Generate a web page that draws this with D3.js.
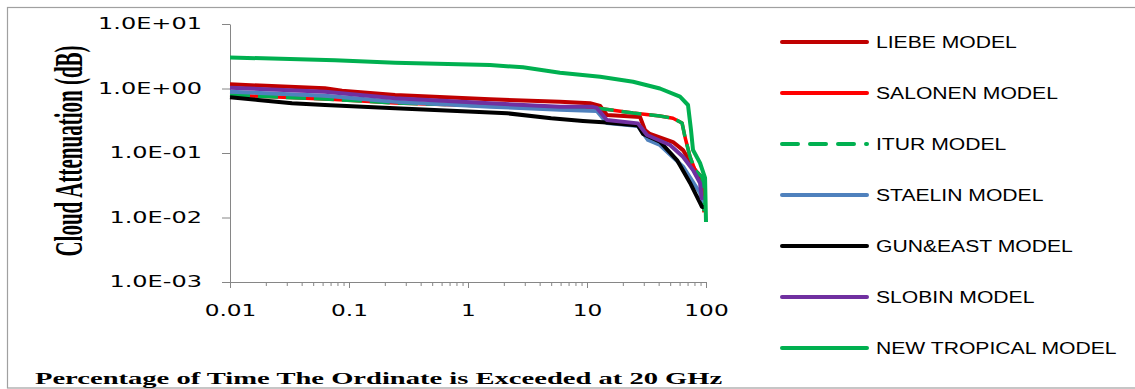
<!DOCTYPE html>
<html>
<head>
<meta charset="utf-8">
<script src="https://cdn.jsdelivr.net/npm/d3@7"></script>
<style>
  body { margin: 0; background: #fff; }
</style>
</head>
<body>
<div class="vis-cloud"></div>
<script>
// series: [percentage of time, attenuation dB]
const liebe = [[0.01,1.16],[0.0628,1.01],[0.0874,0.925],[0.244,0.793],[1.53,0.681],[5.93,0.624],[10.6,0.59],[12.9,0.535],[14.7,0.388],[27.9,0.361],[30.7,0.227],[33.8,0.197],[52.8,0.148],[64.1,0.111],[77.8,0.061],[92.5,0.038],[96.2,0.0156]];
const salonen = [[0.01,0.79],[0.0763,0.675],[0.244,0.596],[1.53,0.535],[5.93,0.517],[12.9,0.49],[24.4,0.417],[41,0.375],[52.8,0.345],[62.9,0.292],[66.6,0.177],[73.5,0.0867],[80.9,0.0545],[92.5,0.0425],[94.4,0.0267],[96.2,0.012]];
const itur = [[0.01,0.793],[0.0763,0.675],[0.244,0.596],[1.53,0.535],[5.93,0.517],[12.9,0.49],[24.4,0.417],[41,0.375],[52.8,0.345],[62.9,0.292],[66.6,0.177],[73.5,0.0867],[80.9,0.0545],[92.5,0.0425],[94.4,0.0267],[96.2,0.0125]];
const staelin = [[0.01,0.892],[0.0628,0.773],[0.244,0.624],[1.53,0.523],[5.93,0.47],[12.1,0.448],[14.7,0.292],[26.8,0.262],[32.6,0.159],[41,0.133],[64.1,0.0614],[89.1,0.024],[92.5,0.0168]];
const gunEast = [[0.01,0.731],[0.0172,0.664],[0.0332,0.59],[0.0628,0.555],[0.244,0.493],[0.809,0.448],[2.13,0.413],[5.0,0.345],[9.25,0.313],[13.6,0.299],[24.4,0.271],[26.8,0.268],[29.6,0.197],[41,0.15],[57,0.0778],[73.5,0.0343],[89.1,0.0168],[92.5,0.0146],[100,0.0146]];
const slobin = [[0.01,1.03],[0.0628,0.892],[0.244,0.705],[1.53,0.59],[5.93,0.523],[11.2,0.52],[12.1,0.5],[14.7,0.325],[26.8,0.288],[31.9,0.19],[49.8,0.133],[64.1,0.0877],[77.8,0.0545],[89.1,0.0343],[92.5,0.0187]];
const newTropical = [[0.01,3.03],[0.0763,2.74],[0.244,2.51],[1.53,2.31],[2.9,2.13],[5.93,1.76],[12.9,1.52],[24.4,1.27],[41,1.0],[60.5,0.746],[70.6,0.555],[74.8,0.227],[77.8,0.111],[89.1,0.07],[98.2,0.041],[100,0.0085]];

const seriesNames = ["LIEBE MODEL","SALONEN MODEL","ITUR MODEL","STAELIN MODEL","GUN&EAST MODEL","SLOBIN MODEL","NEW TROPICAL MODEL"];
const seriesValues = [liebe, salonen, itur, staelin, gunEast, slobin, newTropical];
const seriesColors = ["#c00000","#ff0000","#00b050","#4f81bd","#000000","#7030a0","#00b050"];
const seriesDashed = [false,false,true,false,false,false,false];

const xTickValues = [0.01,0.1,1,10,100];
const xTickLabels = ["0.01","0.1","1","10","100"];
const yTickValues = [0.001,0.01,0.1,1,10];
const yTickLabels = ["1.0E-03","1.0E-02","1.0E-01","1.0E+00","1.0E+01"];

const xTitle = "Percentage of Time The Ordinate is Exceeded at 20 GHz";
const yTitle = "Cloud Attenuation (dB)";

const width = 1135, height = 389;
const margin = { top: 24, right: 429, bottom: 107, left: 230 };

// text in the original is stretched sideways, mimic with textLength
const stretch = (sel, k) => sel.each(function () {
    const len = this.getComputedTextLength();
    d3.select(this).attr("textLength", len * k).attr("lengthAdjust", "spacingAndGlyphs");
});

const svg = d3.select(".vis-cloud")
    .append("svg")
    .attr("width", width)
    .attr("height", height);

// chart border
svg.append("rect")
    .attr("x", 7.5).attr("y", 7.5)
    .attr("width", 1140).attr("height", 380.5)
    .attr("fill", "none")
    .attr("stroke", "#a0a0a0")
    .attr("stroke-width", 1.2);

const x = d3.scaleLog()
    .domain([0.01, 100])
    .range([margin.left, width - margin.right]);

const y = d3.scaleLog()
    .domain([0.001, 10])
    .range([height - margin.bottom, margin.top]);

// minor x ticks
svg.append("g")
    .attr("transform", `translate(0,${height - margin.bottom})`)
    .call(d3.axisBottom(x)
        .tickValues(x.ticks().filter(t => !xTickValues.some(m => Math.abs(m - t) / m < 1e-6)))
        .tickSize(4)
        .tickFormat(""))
    .call(g => g.select(".domain").remove())
    .call(g => g.selectAll("line").attr("stroke", "#868686"));

// major x ticks + labels
svg.append("g")
    .attr("transform", `translate(0,${height - margin.bottom})`)
    .call(d3.axisBottom(x)
        .tickValues(xTickValues)
        .tickSize(6)
        .tickSizeOuter(0)
        .tickPadding(17)
        .tickFormat((d, i) => xTickLabels[i]))
    .call(g => g.select(".domain").attr("stroke", "#868686"))
    .call(g => g.selectAll("line").attr("stroke", "#868686"))
    .call(g => g.selectAll("text")
        .attr("font-family", "DejaVu Sans")
        .attr("font-size", 15)
        .attr("fill", "#000")
        .call(stretch, 1.55));

svg.append("g")
    .attr("transform", `translate(${margin.left},0)`)
    .call(d3.axisLeft(y)
        .tickValues(yTickValues)
        .tickSize(8)
        .tickSizeOuter(0)
        .tickPadding(20)
        .tickFormat((d, i) => yTickLabels[i]))
    .call(g => g.select(".domain").attr("stroke", "#868686"))
    .call(g => g.selectAll("line").attr("stroke", "#868686"))
    .call(g => g.selectAll("text")
        .attr("font-family", "DejaVu Sans")
        .attr("font-size", 15)
        .attr("fill", "#000")
        .call(stretch, 1.6));

const line = d3.line()
    .x(d => x(d[0]))
    .y(d => y(d[1]));

svg.append("g")
    .selectAll("path")
    .data(seriesValues)
    .join("path")
    .attr("d", line)
    .attr("fill", "none")
    .attr("stroke", (d, i) => seriesColors[i])
    .attr("stroke-width", (d, i) => i === 1 || i === 2 ? 3.5 : 4)
    .attr("stroke-dasharray", (d, i) => seriesDashed[i] ? "20,8" : null)
    .attr("stroke-linejoin", "round");

// legend
const legend = svg.append("g")
    .selectAll("g")
    .data(seriesNames)
    .join("g")
    .attr("transform", (d, i) => `translate(782,${42 + i * 51})`);

legend.append("line")
    .attr("x1", 0).attr("x2", 85)
    .attr("stroke", (d, i) => seriesColors[i])
    .attr("stroke-width", 4)
    .attr("stroke-linecap", "round")
    .attr("stroke-dasharray", (d, i) => seriesDashed[i] ? "16,12" : null);

legend.append("text")
    .attr("x", 94)
    .attr("dy", "0.36em")
    .attr("font-family", "Liberation Sans")
    .attr("font-size", 16)
    .attr("fill", "#000")
    .text(d => d)
    .call(stretch, 1.32);

// axis titles
svg.append("text")
    .attr("x", 35)
    .attr("y", 384)
    .attr("font-family", "Liberation Serif")
    .attr("font-weight", "bold")
    .attr("font-size", 17)
    .attr("fill", "#000")
    .text(xTitle)
    .call(stretch, 1.68);

svg.append("text")
    .attr("transform", "translate(68,151) scale(1.95,1) rotate(-90)")
    .attr("text-anchor", "middle")
    .attr("dy", "0.35em")
    .attr("font-family", "Liberation Serif")
    .attr("font-weight", "bold")
    .attr("font-size", 21)
    .attr("fill", "#000")
    .text(yTitle);
</script>
</body>
</html>
